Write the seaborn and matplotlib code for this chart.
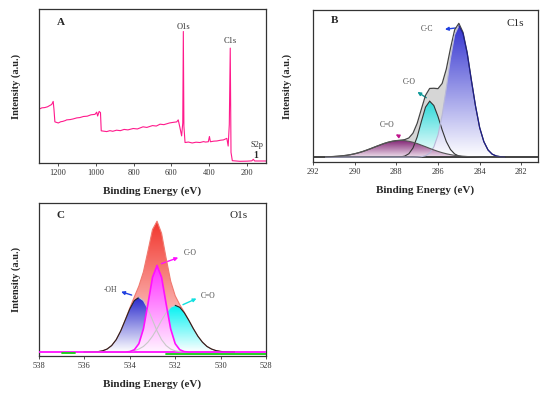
import numpy as np
import matplotlib
matplotlib.use('Agg')
import matplotlib.pyplot as plt
import matplotlib.colors as mcolors
from matplotlib.patches import PathPatch
import seaborn as sns

# ---- panel A: survey spectrum ----
survey_be = [1299, 1285, 1269, 1255, 1242, 1233, 1225, 1221, 1216, 1198, 1185, 1175, 1160, 1154,
             1135, 1120, 1100, 1084, 1065, 1045, 1025, 1004, 995, 990, 982, 975, 971, 942, 925,
             910, 890, 870, 850, 830, 802, 780, 750, 730, 700, 680, 660, 640, 610, 590, 572, 564,
             555, 546, 540, 537, 534, 528, 510, 490, 470, 449, 430, 420, 405, 399, 394, 375, 360,
             340, 325, 307, 300, 294, 289, 285, 278, 237, 200, 175, 167, 160, 149, 101]
survey_int = [35, 35.8, 36, 36.5, 37.4, 38, 40, 35, 26.7, 26, 26.8, 27, 27.6, 28,
              28.2, 28.6, 29.3, 29.5, 30.2, 30.4, 31.3, 31.6, 33, 30.5, 33.5, 32.7, 20.9, 20.4, 21.0,
              20.6, 21.3, 21.0, 21.8, 21.5, 22.4, 22.1, 23.5, 23.1, 24.3, 24.0, 25.2, 24.9, 26, 26.4, 26.7, 28,
              23, 17.6, 26, 85.4, 24, 13.3, 13.6, 13.0, 13.5, 13.3, 13.9, 13.6, 13.8, 17.2, 13.8, 14.2, 14.3,
              14.8, 15, 16, 11, 25, 74.6, 6.9, 1.5, 1.1, 1.2, 1.4, 2.4, 1.3, 1.3, 1.3]

# ---- panel B: C1s high resolution ----
c1s_be = [291.4, 291.2, 291.0, 290.8, 290.6, 290.4, 290.2, 290.0, 289.8, 289.6, 289.4, 289.2,
          289.0, 288.8, 288.6, 288.4, 288.2, 288.0, 287.8, 287.6, 287.4, 287.2, 287.0, 286.8,
          286.6, 286.4, 286.2, 286.0, 285.8, 285.6, 285.4, 285.2, 285.0, 284.8, 284.6, 284.4,
          284.2, 284.0, 283.8, 283.6, 283.4, 283.2, 283.0, 282.8]
c1s_cc = [0] * 22 + [0.1, 0.4, 1.4, 4.1, 10.3, 22.6, 42.9, 70.6, 100.8, 124.8, 134, 126, 106,
                     78.5, 52, 30, 15.8, 7.3, 3.0, 1.1, 0.4, 0]
c1s_co = [0] * 18 + [0.2, 1.0, 3.4, 9.3, 20.5, 36.2, 50.9, 57, 52.6, 41.4, 27.7, 15.8, 7.7, 3.2,
                     1.1, 0.3] + [0] * 10
c1s_c_o = [0.25, 0.4, 0.6, 0.9, 1.3, 1.8, 2.5, 3.4, 4.5, 5.8, 7.3, 8.9, 10.6, 12.2, 13.8, 15.1,
           16.1, 16.8, 17, 16.8, 16.1, 15.1, 13.8, 12.2, 10.6, 8.9, 7.3, 5.8, 4.5, 3.4, 2.5, 1.8,
           1.3, 0.9, 0.6, 0.4, 0.25, 0.1] + [0] * 6
c1s_env = [0.25, 0.4, 0.6, 0.9, 1.3, 1.8, 2.5, 3.4, 4.5, 5.8, 7.3, 8.9, 10.6, 12.2, 13.8, 15.1,
           16.1, 16.8, 17.2, 17.8, 19.5, 24.4, 34.4, 48.8, 62.9, 70.0, 70.2, 69.8, 75.1, 89.8,
           111.0, 129.8, 136.4, 127.2, 106.6, 78.9, 52.3, 30.1, 15.8, 7.3, 3.0, 1.1, 0.4, 0]

# ---- panel C: O1s high resolution ----
o1s_be = [536.0, 535.8, 535.6, 535.4, 535.2, 535.0, 534.8, 534.6, 534.4, 534.2, 534.0, 533.8,
          533.6, 533.4, 533.2, 533.0, 532.8, 532.6, 532.4, 532.2, 532.0, 531.8, 531.6, 531.4,
          531.2, 531.0, 530.8, 530.6, 530.4, 530.2, 530.0, 529.8, 529.6, 529.4]
o1s_oh = [0, 0.1, 0.2, 0.4, 1.2, 3.0, 6.5, 12.4, 21.2, 32.2, 43.3, 51.8, 55, 51.8, 43.3, 32.2,
          21.2, 12.4, 6.5, 3.0, 1.2, 0.4, 0.2, 0.1] + [0] * 10
o1s_co = [0] * 10 + [0.4, 2.3, 8.4, 23.3, 48.5, 75.2, 87, 75.2, 48.5, 23.3, 8.4, 2.3, 0.4] + [0] * 11
o1s_c_o = [0] * 8 + [0.1, 0.2, 0.6, 1.4, 3.0, 5.6, 9.9, 15.9, 23.5, 31.9, 39.5, 45.0, 47, 45.0,
                     39.5, 31.9, 23.5, 15.9, 9.9, 5.6, 3.0, 1.4, 0.6, 0.2, 0.1, 0]
o1s_env = [0, 0.1, 0.2, 0.4, 1.2, 3.0, 6.5, 12.4, 21.3, 32.4, 44.3, 55.5, 66.4, 80.7, 101.7,
           123.3, 131.7, 119.5, 94.5, 71.3, 56.6, 47.7, 40.1, 32.0, 23.5, 15.9, 9.9, 5.6, 3.0,
           1.4, 0.6, 0.2, 0.1, 0]
o1s_green_a = ([537.0, 536.4], [-0.8, -0.8])
o1s_green_b = ([532.4, 528.0], [-1.8, -1.8])

sns.set_style('ticks')
plt.rcParams['font.family'] = ['Liberation Serif', 'DejaVu Serif']
plt.rcParams['axes.linewidth'] = 0.9
plt.rcParams['axes.edgecolor'] = '#333333'


def gradient_fill(ax, x, y, top, bottom, z):
    x = np.asarray(x, float)
    y = np.asarray(y, float)
    poly = ax.fill_between(x, 0, y, facecolor='none', edgecolor='none')
    patch = PathPatch(poly.get_paths()[0], transform=ax.transData,
                      facecolor='none', edgecolor='none')
    ax.add_patch(patch)
    c0 = np.array(mcolors.to_rgba(top))
    c1 = np.array(mcolors.to_rgba(bottom))
    t = np.linspace(0, 1, 200)[:, None]
    grad = (c0 * (1 - t) + c1 * t)[:, None, :]
    im = ax.imshow(grad, extent=[x.min(), x.max(), 0, y.max()], origin='upper',
                   aspect='auto', zorder=z, interpolation='bilinear')
    im.set_clip_path(patch)


def split_line(ax, x, y, left_color, right_color, lw, z):
    # left part (higher BE) and right part of one fitted peak
    k = int(np.argmax(y))
    sns.lineplot(x=x[:k + 1], y=y[:k + 1], ax=ax, color=left_color, linewidth=lw, zorder=z)
    sns.lineplot(x=x[k:], y=y[k:], ax=ax, color=right_color, linewidth=lw, zorder=z)


def style(ax, xlim, ylim, ticks):
    ax.set_xlim(*xlim)
    ax.set_ylim(*ylim)
    ax.set_xticks(ticks)
    ax.set_yticks([])
    ax.tick_params(axis='x', direction='out', length=2, width=0.6, labelsize=6,
                   pad=2, colors='#333333')
    ax.set_xlabel('Binding Energy (eV)', fontsize=8, fontweight='bold', labelpad=7)
    ax.set_ylabel('Intensity (a.u.)', fontsize=7.5, fontweight='bold', labelpad=13)


fig = plt.figure(figsize=(5.5, 3.94), dpi=100)
axA = fig.add_axes([39 / 550, 1 - 163 / 394, 227 / 550, 154 / 394])
axB = fig.add_axes([313 / 550, 1 - 162 / 394, 225 / 550, 152 / 394])
axC = fig.add_axes([39 / 550, 1 - 356 / 394, 227 / 550, 153 / 394])

# ---------------- A ----------------
sns.lineplot(x=survey_be, y=survey_int, ax=axA, color='#ff1a8c', linewidth=0.8, sort=False)
style(axA, (1300, 100), (0, 100), [1200, 1000, 800, 600, 400, 200])
axA.text(0.08, 0.91, 'A', transform=axA.transAxes, fontsize=8, fontweight='bold', va='center')
axA.text(539, 88, 'O1s', fontsize=6, ha='center', va='center', color='#333333')
axA.text(290, 79, 'C1s', fontsize=6, ha='center', va='center', color='#333333')
axA.text(147, 11.5, 'S2p', fontsize=6, ha='center', va='center', color='#333333')
axA.text(152, 5, '1', fontsize=7, fontweight='bold', ha='center', va='center')

# ---------------- B ----------------
be = np.array(c1s_be)
axB.fill_between(be, 0, c1s_env, color='#d6d6d6', zorder=1, linewidth=0)
gradient_fill(axB, be, c1s_co, '#2ad8d8', '#ffffff', 2)
gradient_fill(axB, be, c1s_cc, '#3535d0', '#ffffff', 3)
gradient_fill(axB, be, c1s_c_o, '#822475', '#ecdcea', 4)
axB.axhline(0, color='#333333', linewidth=1.3, zorder=5)
sns.lineplot(x=be, y=c1s_env, ax=axB, color='#444444', linewidth=0.9, zorder=6)
split_line(axB, be, np.array(c1s_co), '#333333', '#333333', 0.8, 6)
split_line(axB, be, np.array(c1s_cc), '#b8b8d8', '#1c1c90', 0.8, 6)
split_line(axB, be, np.array(c1s_c_o), '#555555', '#555555', 0.8, 6)
style(axB, (292, 281.2), (-5, 150), [292, 290, 288, 286, 284, 282])
axB.yaxis.labelpad = 15
axB.text(0.08, 0.93, 'B', transform=axB.transAxes, fontsize=8, fontweight='bold', va='center')
axB.text(0.9, 0.91, 'C1s', transform=axB.transAxes, fontsize=8, ha='center', va='center')
arrow = dict(arrowstyle='-|>', lw=1.0, mutation_scale=5)
axB.annotate('', xy=(285.8, 130), xytext=(285.02, 132),
             arrowprops=dict(arrow, color='#2040e0'))
axB.text(286.55, 131, 'C-C', fontsize=5.5, ha='center', va='center', color='#444444')
axB.annotate('', xy=(287.1, 68), xytext=(286.45, 59),
             arrowprops=dict(arrow, color='#109a9a'))
axB.text(287.36, 77, 'C-O', fontsize=5.5, ha='center', va='center', color='#444444')
axB.annotate('', xy=(288.15, 24.5), xytext=(287.75, 20),
             arrowprops=dict(arrow, color='#c0148c'))
axB.text(288.45, 33, 'C=O', fontsize=5.5, ha='center', va='center', color='#444444')

# ---------------- C ----------------
be = np.array(o1s_be)
gradient_fill(axC, be, o1s_env, '#f2352c', '#fff0f0', 1)
gradient_fill(axC, be, o1s_oh, '#2828cc', '#ffffff', 2)
gradient_fill(axC, be, o1s_c_o, '#00f2f2', '#ffffff', 3)
gradient_fill(axC, be, o1s_co, '#ff2cff', '#fff4ff', 4)
sns.lineplot(x=be, y=o1s_env, ax=axC, color='#f07a70', linewidth=0.8, zorder=6)
split_line(axC, be, np.array(o1s_oh), '#222222', '#c8c8c8', 0.8, 6)
split_line(axC, be, np.array(o1s_c_o), '#c8c8c8', '#222222', 0.8, 6)
split_line(axC, be, np.array(o1s_co), '#ff10ff', '#ff10ff', 1.2, 7)
axC.axhline(0, color='#ff10ff', linewidth=1.3, zorder=5)
sns.lineplot(x=o1s_green_a[0], y=o1s_green_a[1], ax=axC, color='#10d010', linewidth=1.3, zorder=5)
sns.lineplot(x=o1s_green_b[0], y=o1s_green_b[1], ax=axC, color='#10d010', linewidth=1.3, zorder=5)
style(axC, (538, 528), (-4, 150), [538, 536, 534, 532, 530, 528])
axC.text(0.075, 0.92, 'C', transform=axC.transAxes, fontsize=8, fontweight='bold', va='center')
axC.text(0.88, 0.92, 'O1s', transform=axC.transAxes, fontsize=8, ha='center', va='center')
axC.annotate('', xy=(534.5, 61.5), xytext=(533.8, 56.5),
             arrowprops=dict(arrow, color='#2040e0'))
axC.text(534.85, 62.5, '-OH', fontsize=5.5, ha='center', va='center', color='#444444')
axC.annotate('', xy=(531.75, 96), xytext=(532.72, 88),
             arrowprops=dict(arrow, color='#ff10ff'))
axC.text(531.35, 100, 'C-O', fontsize=5.5, ha='center', va='center', color='#444444')
axC.annotate('', xy=(530.95, 55), xytext=(531.77, 46.5),
             arrowprops=dict(arrow, color='#10e0e0'))
axC.text(530.55, 56, 'C=O', fontsize=5.5, ha='center', va='center', color='#444444')

fig.savefig('out.png', dpi=100)
